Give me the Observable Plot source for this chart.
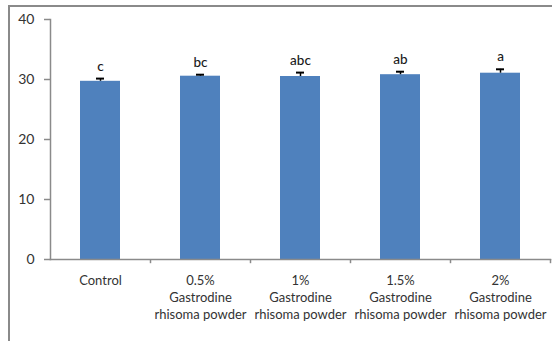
<!DOCTYPE html>
<html>
<head>
<meta charset="utf-8">
<script src="https://cdn.jsdelivr.net/npm/d3@7"></script>
<script src="https://cdn.jsdelivr.net/npm/@observablehq/plot@0.6"></script>
<style>
  html, body { margin: 0; padding: 0; background: #fff; }
  #wrap { position: relative; width: 552px; height: 341px; overflow: hidden; }
  #frame { position: absolute; left: 8px; top: 5px; width: 600px; height: 400px;
           border-left: 2px solid #8a8a8a; border-top: 2px solid #8a8a8a; box-sizing: border-box; pointer-events: none; }
  #chart { position: absolute; left: 0; top: 0; }
</style>
</head>
<body>
<div id="wrap"><div id="chart"></div><div id="frame"></div></div>
<script>
const categories = ["Control", "0.5%", "1%", "1.5%", "2%"];
const tickLabels = [
  "Control",
  "0.5%\nGastrodine\nrhisoma powder",
  "1%\nGastrodine\nrhisoma powder",
  "1.5%\nGastrodine\nrhisoma powder",
  "2%\nGastrodine\nrhisoma powder"
];
const means = [29.7, 30.55, 30.5, 30.8, 31.05];
const errors = [0.45, 0.25, 0.65, 0.5, 0.65];
const letters = ["c", "bc", "abc", "ab", "a"];
const yTicks = [0, 10, 20, 30, 40];

const data = categories.map((c, i) => ({cat: c, mean: means[i], err: errors[i], letter: letters[i], label: tickLabels[i]}));
const labelOf = new Map(data.map(d => [d.cat, d.label]));

const font = "Lato, 'Open Sans', sans-serif";

const chart = Plot.plot({
  width: 552,
  height: 341,
  marginLeft: 50,
  marginRight: 2,
  marginTop: 19,
  marginBottom: 82,
  style: {fontFamily: font, background: "transparent", overflow: "visible"},
  x: {domain: categories, paddingInner: 0.6, paddingOuter: 0.3, axis: null},
  y: {domain: [0, 40], axis: null},
  marks: [
    Plot.barY(data, {x: "cat", y: "mean", fill: "#4f81bd"}),
    Plot.ruleX(data, {x: "cat", y1: "mean", y2: d => d.mean + d.err, stroke: "#000", strokeWidth: 1.5}),
    Plot.tickY(data, {x: "cat", y: d => d.mean + d.err, stroke: "#000", strokeWidth: 2, insetLeft: 16, insetRight: 16}),
    Plot.text(data, {x: "cat", y: d => d.mean + d.err, text: "letter", lineAnchor: "bottom", dy: -8, fontSize: 13.5, fontWeight: 500, fill: "#1a1a1a"}),
    Plot.frame({anchor: "left", stroke: "#8a8a8a", strokeWidth: 1.5}),
    Plot.frame({anchor: "bottom", stroke: "#8a8a8a", strokeWidth: 1.5}),
    Plot.ruleX(categories, {x: d => d, dx: 50, y1: 0, y2: -0.7, stroke: "#8a8a8a", strokeWidth: 1.5}),
    Plot.axisY({ticks: yTicks, tickSize: 6, tickPadding: 10, stroke: "#8a8a8a", strokeWidth: 1.5, fontSize: 14, fill: "#333", label: null}),
    Plot.axisX({tickSize: 0, tickPadding: 13, tickFormat: d => labelOf.get(d), fontSize: 13, lineHeight: 1.32, fill: "#333", label: null})
  ]
});
document.getElementById("chart").appendChild(chart);
</script>
</body>
</html>
